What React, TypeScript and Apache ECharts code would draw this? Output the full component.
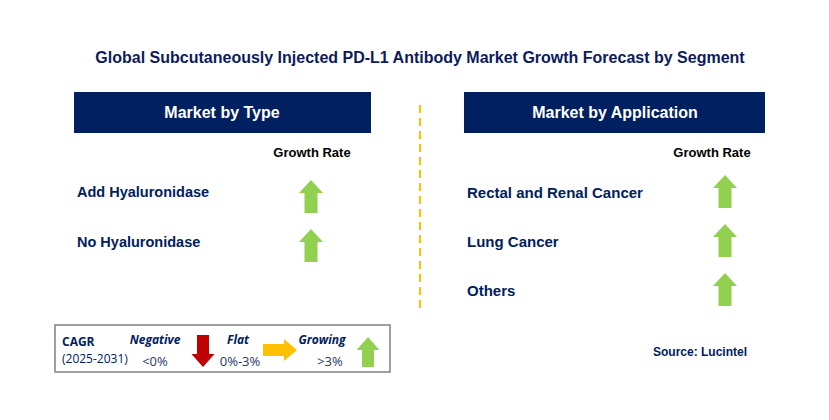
import React, { useEffect, useRef } from "react";
import * as echarts from "echarts";

const TITLE = "Global Subcutaneously Injected PD-L1 Antibody Market Growth Forecast by Segment";
const typeHeader = "Market by Type";
const appHeader = "Market by Application";
const typeSegments = ["Add Hyaluronidase", "No Hyaluronidase"];
const typeGrowth = ["Growing", "Growing"];
const appSegments = ["Rectal and Renal Cancer", "Lung Cancer", "Others"];
const appGrowth = ["Growing", "Growing", "Growing"];
const legendLabels = ["Negative", "Flat", "Growing"];
const legendRanges = ["<0%", "0%-3%", ">3%"];
const SOURCE = "Source: Lucintel";

const NAVY = "#002060";
const GREEN = "#92D050";
const RED = "#C00000";
const YELLOW = "#FFC000";
const FONT = "'Liberation Sans', Arial, sans-serif";
const LFONT = "'Open Sans', 'Noto Sans', sans-serif";

function upArrow(cx: number, y0: number, y1: number, w: number, sw: number, hh: number, color: string) {
  return {
    type: "polygon",
    shape: {
      points: [
        [cx, y0], [cx + w / 2, y0 + hh], [cx + sw / 2, y0 + hh], [cx + sw / 2, y1],
        [cx - sw / 2, y1], [cx - sw / 2, y0 + hh], [cx - w / 2, y0 + hh],
      ],
    },
    style: { fill: color },
  };
}
function downArrow(cx: number, y0: number, y1: number, w: number, sw: number, hh: number, color: string) {
  return {
    type: "polygon",
    shape: {
      points: [
        [cx, y1], [cx + w / 2, y1 - hh], [cx + sw / 2, y1 - hh], [cx + sw / 2, y0],
        [cx - sw / 2, y0], [cx - sw / 2, y1 - hh], [cx - w / 2, y1 - hh],
      ],
    },
    style: { fill: color },
  };
}
function rightArrow(x0: number, x1: number, cy: number, h: number, sh: number, hw: number, color: string) {
  return {
    type: "polygon",
    shape: {
      points: [
        [x1, cy], [x1 - hw, cy - h / 2], [x1 - hw, cy - sh / 2], [x0, cy - sh / 2],
        [x0, cy + sh / 2], [x1 - hw, cy + sh / 2], [x1 - hw, cy + h / 2],
      ],
    },
    style: { fill: color },
  };
}
function arrowFor(status: string, cx: number, y0: number) {
  if (status === "Negative") return downArrow(cx, y0, y0 + 33, 24, 13, 13, RED);
  if (status === "Flat") return rightArrow(cx - 17, cx + 17, y0 + 16, 22, 12, 12, YELLOW);
  return upArrow(cx, y0, y0 + 33, 24, 13, 13, GREEN);
}

function txt(text: string, x: number, y: number, opts: any = {}) {
  return {
    type: "text",
    x,
    y,
    style: {
      text,
      fill: opts.fill || NAVY,
      font: `${opts.italic ? "italic " : ""}${opts.weight || "bold"} ${opts.size || 14}px ${opts.family || FONT}`,
      textAlign: opts.align || "left",
      textVerticalAlign: "middle",
    },
  };
}

export default function App() {
  const ref = useRef<HTMLDivElement>(null);
  useEffect(() => {
    if (!ref.current) return;
    const chart = echarts.init(ref.current, null, { renderer: "svg" });
    const els: any[] = [];
    els.push(txt(TITLE, 420, 57, { size: 16, align: "center", fill: "#0D1B5C" }));
    // headers
    els.push({ type: "rect", shape: { x: 74, y: 92, width: 297, height: 41 }, style: { fill: NAVY } });
    els.push(txt(typeHeader, 222, 112, { size: 16, align: "center", fill: "#ffffff" }));
    els.push({ type: "rect", shape: { x: 464, y: 92, width: 301, height: 41 }, style: { fill: NAVY } });
    els.push(txt(appHeader, 615, 112, { size: 16, align: "center", fill: "#ffffff" }));
    els.push(txt("Growth Rate", 312, 152, { size: 13, align: "center", fill: "#000000" }));
    els.push(txt("Growth Rate", 712, 152, { size: 13, align: "center", fill: "#000000" }));
    // divider
    els.push({
      type: "line",
      shape: { x1: 420, y1: 105, x2: 420, y2: 312 },
      style: { stroke: YELLOW, lineWidth: 2, lineDash: [8, 5] },
    });
    typeSegments.forEach((s, i) => {
      const y = 192 + i * 50;
      els.push(txt(s, 77, y, { size: 14.5 }));
      els.push(arrowFor(typeGrowth[i], 311, y - 12 + i * -1));
    });
    appSegments.forEach((s, i) => {
      const y = 192 + i * 49;
      els.push(txt(s, 467, y, { size: 15 }));
      els.push(arrowFor(appGrowth[i], 725, 175 + i * 49));
    });
    // legend
    els.push({
      type: "rect",
      shape: { x: 55, y: 325, width: 335, height: 47 },
      style: { fill: "#ffffff", stroke: "#808080", lineWidth: 1.5 },
    });
    els.push(txt("CAGR", 62, 341, { size: 12, family: LFONT }));
    els.push(txt("(2025-2031)", 62, 358, { size: 12, weight: "normal", family: LFONT }));
    const lx = [155, 238, 322];
    const rx = [155, 240, 330];
    legendLabels.forEach((l, i) => {
      els.push(txt(l, lx[i], 339, { size: 12, italic: true, family: LFONT, align: "center" }));
      els.push(txt(legendRanges[i], rx[i], 361, { size: 13, weight: "normal", family: LFONT, align: "center", fill: "#1F3864" }));
    });
    els.push(downArrow(203, 335, 367, 23, 12, 13, RED));
    els.push(rightArrow(263, 297, 350, 22, 12, 13, YELLOW));
    els.push(upArrow(368, 337, 367, 23, 12, 13, GREEN));
    els.push(txt(SOURCE, 700, 352, { size: 12, align: "center" }));

    chart.setOption({
      animation: false,
      backgroundColor: "#ffffff",
      graphic: { elements: els },
    });
    return () => chart.dispose();
  }, []);
  return (
    <div
      ref={ref}
      style={{ position: "fixed", left: 0, top: 0, width: 829, height: 420 }}
    />
  );
}
